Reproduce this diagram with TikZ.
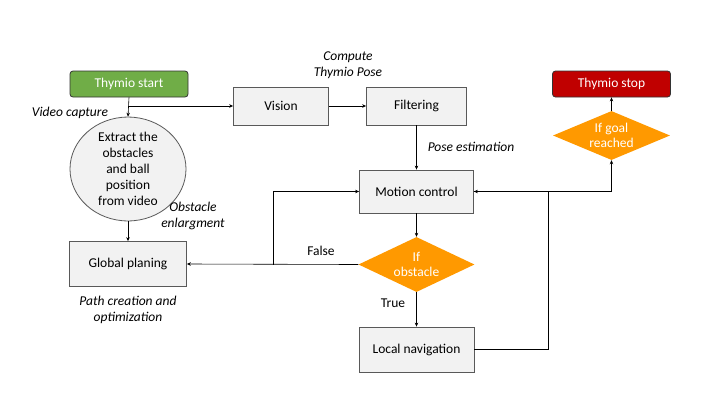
\documentclass[tikz,border=0pt]{standalone}
\usepackage{fontspec}
\setmainfont{Carlito}
\usetikzlibrary{shapes.geometric,arrows.meta}
\definecolor{boxfill}{HTML}{F2F2F2}
\definecolor{boxdraw}{HTML}{595959}
\definecolor{startgreen}{HTML}{70AD47}
\definecolor{stopred}{HTML}{C00000}
\definecolor{decorange}{HTML}{FF9900}
\tikzset{
  x=1pt, y=-1pt,
  every node/.style={font=\fontsize{13.5}{16}\selectfont},
  procbox/.style={draw=boxdraw, line width=0.8pt, fill=boxfill, minimum width=#1, minimum height=38pt, inner sep=0pt},
  procbox/.default=95pt,
  termbox/.style={draw=black!80, line width=0.8pt, rounded corners=3pt, text=white, minimum width=118pt, minimum height=26pt, inner sep=0pt},
  decision/.style={diamond, fill=decorange, text=white, aspect=2.1, inner sep=0pt, align=center, minimum width=#1},
  note/.style={font=\fontsize{13.5}{16}\selectfont\itshape, align=center},
  conn/.style={line width=0.6pt, -{Stealth[length=4pt,width=3.5pt]}},
  plain/.style={line width=0.6pt}
}
\begin{document}
\begin{tikzpicture}
\useasboundingbox (0,0) rectangle (720,405);
% nodes
\node[termbox, fill=startgreen] (start) at (129,84) {Thymio start};
\node[termbox, fill=stopred] (stop) at (611.5,84) {Thymio stop};
\node[procbox=95pt] (vision) at (281,106) {Vision};
\node[procbox=100pt] (filter) at (416.5,106) {Filtering};
\node[ellipse, draw=boxdraw, line width=0.8pt, fill=boxfill, minimum width=116pt, minimum height=93pt, inner sep=0pt, align=center] (extract) at (128,169) {Extract the\\obstacles\\and ball\\position\\from video};
\node[procbox=117pt, minimum height=45pt] (global) at (128,264) {Global planing};
\node[procbox=114pt, minimum height=43pt] (motion) at (416.5,191.5) {Motion control};
\node[decision=116pt, minimum height=55pt] (obst) at (416.5,264.5) {If\\[-1pt]obstacle};
\node[procbox=115pt, minimum height=45pt] (local) at (416.5,349.5) {Local navigation};
\node[decision=117pt, minimum height=49pt, aspect=2.4] (goal) at (611.5,135.5) {If goal\\[-1pt]reached};
% helper coordinates
\coordinate (branch) at (128,106);
\coordinate (fl) at (273,264.5);
\coordinate (rl) at (548,349.5);
% labels
\node[note] (lvideo) at (70,113) {Video capture};
\node[note] (lpose) at (348,65) {Compute\\Thymio Pose};
\node[note] (lest) at (471,147) {Pose estimation};
\node[note] (lenl) at (193,216) {Obstacle\\enlargment};
\node[note] (lpath) at (128,309.5) {Path creation and\\optimization};
\node (lfalse) at (321,251) {False};
\node (ltrue) at (393,303) {True};
% connectors
\draw[conn] (start.south) -- (extract.north);
\draw[conn] (branch) -- (vision.west);
\draw[conn] (vision.east) -- (filter.west);
\draw[conn] (filter.south) -- (motion.north);
\draw[conn] (extract.south) -- (global.north);
\draw[conn] (motion.south) -- (obst.north);
\draw[conn] (obst.south) -- (local.north);
\draw[conn] (obst.west) -- (global.east);
\draw[conn] (fl) |- (motion.west);
\draw[plain] (local.east) -- (rl);
\draw[conn] (rl) |- (motion.east);
\draw[conn] (motion.east) -| (goal.south);
\draw[conn] (goal.north) -- (stop.south);
\end{tikzpicture}
\end{document}
